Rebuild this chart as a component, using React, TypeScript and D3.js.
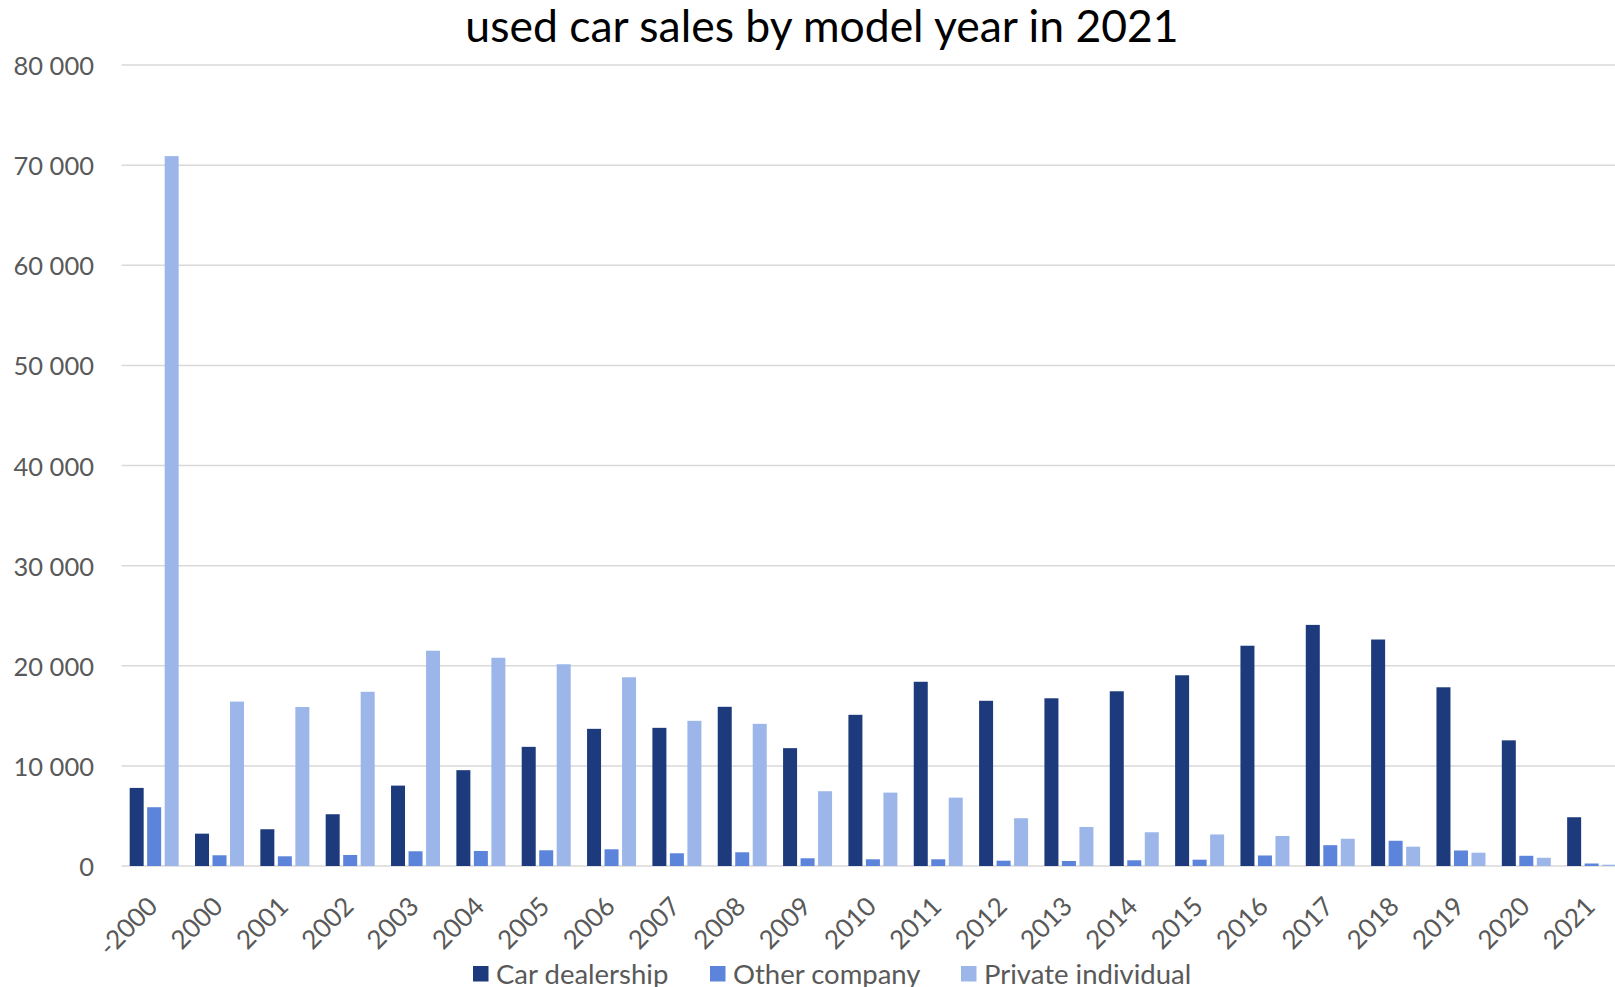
import React from "react";
import * as d3 from "d3";

const categories = ["-2000", "2000", "2001", "2002", "2003", "2004", "2005", "2006", "2007", "2008", "2009", "2010", "2011", "2012", "2013", "2014", "2015", "2016", "2017", "2018", "2019", "2020", "2021"];
const seriesNames = ["Car dealership", "Other company", "Private individual"];
const carDealership = [7800, 3230, 3670, 5170, 8030, 9570, 11900, 13700, 13800, 15900, 11770, 15100, 18400, 16500, 16750, 17450, 19050, 22000, 24080, 22620, 17850, 12550, 4870];
const otherCompany = [5870, 1070, 970, 1100, 1470, 1500, 1570, 1670, 1270, 1370, 770, 670, 670, 530, 500, 570, 630, 1050, 2080, 2520, 1550, 1020, 250];
const privateIndividual = [70900, 16420, 15880, 17400, 21500, 20800, 20150, 18850, 14500, 14200, 7470, 7330, 6830, 4770, 3900, 3370, 3150, 3000, 2720, 1930, 1330, 820, 130];
const yTicks = [0, 10000, 20000, 30000, 40000, 50000, 60000, 70000, 80000];
const title = "used car sales by model year in 2021";

const seriesValues = [carDealership, otherCompany, privateIndividual];
const colors = ["#1d3a7d", "#5b84da", "#9db6ea"];

const W = 1615;
const H = 987;
const FONT = "Lato, 'Open Sans', sans-serif";

export default function App() {
  const plotLeft = 121.5;
  const step = 65.34;
  const x = d3.scaleBand<string>().domain(categories).range([plotLeft, plotLeft + step * categories.length]).padding(0);
  const y = d3.scaleLinear().domain([0, 80000]).range([866, 65]);
  const locale = d3.formatLocale({ decimal: ",", thousands: " ", grouping: [3], currency: ["", ""] });
  const fmt = locale.format(",");
  const legendX = [473, 710, 961];

  return (
    <svg width={W} height={H} style={{ position: "absolute", left: 0, top: 0, background: "#fff" }} fontFamily={FONT}>
      <text x={822} y={42} textAnchor="middle" fontSize={44.5} fill="#000">{title}</text>
      {yTicks.map((t) => (
        <g key={t}>
          <line x1={plotLeft} x2={W} y1={y(t)} y2={y(t)} stroke="#d9d9d9" strokeWidth={1.5} />
          <text x={94} y={y(t)} textAnchor="end" dominantBaseline="central" fontSize={25.5} fill="#595959">{fmt(t)}</text>
        </g>
      ))}
      {categories.map((c, i) => {
        const center = (x(c) as number) + x.bandwidth() / 2;
        const inner = d3.scaleBand<string>().domain(seriesNames).range([center - 26.25, center + 26.25]).paddingInner(0.2).paddingOuter(0.1);
        return (
          <g key={c}>
            {seriesNames.map((s, k) => {
              const v = seriesValues[k][i];
              return (
                <rect key={s} x={inner(s)} y={y(v)} width={inner.bandwidth()} height={y(0) - y(v)} fill={colors[k]} />
              );
            })}
            <text transform={`translate(${center + 5},${908}) rotate(-45)`} textAnchor="end" fontSize={26} fill="#595959">{c}</text>
          </g>
        );
      })}
      {seriesNames.map((s, k) => (
        <g key={s}>
          <rect x={legendX[k]} y={966} width={15.5} height={15.5} fill={colors[k]} />
          <text x={legendX[k] + 23} y={984} fontSize={27.5} fill="#595959">{s}</text>
        </g>
      ))}
    </svg>
  );
}
